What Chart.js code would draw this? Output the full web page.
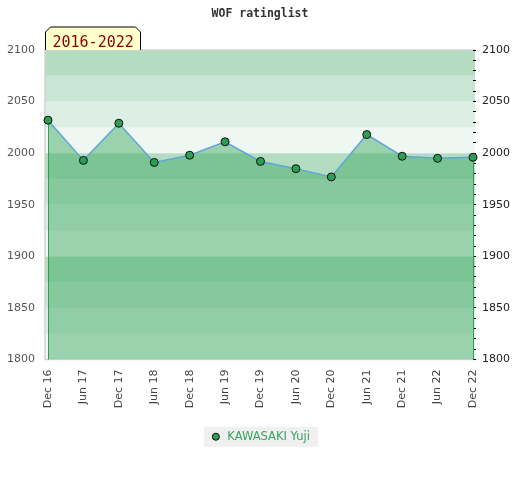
<!DOCTYPE html>
<html>
<head>
<meta charset="utf-8">
<title>WOF ratinglist</title>
<script src="https://cdn.jsdelivr.net/npm/chart.js@4.4.0/dist/chart.umd.min.js"></script>
<style>
  body { margin: 0; background: #fff; }
  canvas { display: block; }
</style>
</head>
<body>
<canvas id="chart" width="520" height="480"></canvas>
<script>
// Rating history
const periods = ['Dec 16', 'Jun 17', 'Dec 17', 'Jun 18', 'Dec 18', 'Jun 19', 'Dec 19',
                 'Jun 20', 'Dec 20', 'Jun 21', 'Dec 21', 'Jun 22', 'Dec 22'];
const ratings = [2032, 1993, 2029, 1991, 1998, 2011, 1992, 1985, 1977, 2018, 1997, 1995, 1996];
const playerName = 'KAWASAKI Yuji';
const rangeLabel = '2016-2022';
const yMin = 1800;
const yMax = 2100;

// background stripes, 4 per hundred points (top of each hundred is the darkest)
const bandColors = ['#eff7f2', '#ddeee4', '#c9e6d4', '#b4dcc1'];
const bandStep = 25;

// Stripes, plot frame and legend background
const backgroundPlugin = {
    id: 'background',
    beforeDraw(chart) {
        const ctx = chart.ctx;
        const area = chart.chartArea;
        const y = chart.scales.y;
        const left = area.left - 3;
        const right = area.right + 2;
        ctx.save();
        for (let v = yMin; v < yMax; v += bandStep) {
            const top = y.getPixelForValue(v + bandStep);
            const bottom = y.getPixelForValue(v);
            ctx.fillStyle = bandColors[((v - yMin) / bandStep) % 4];
            ctx.fillRect(left, top, right - left, bottom - top);
        }
        // frame: left, top, bottom
        ctx.strokeStyle = '#d2d2d2';
        ctx.lineWidth = 1.5;
        ctx.beginPath();
        ctx.moveTo(right, area.top);
        ctx.lineTo(left, area.top);
        ctx.lineTo(left, area.bottom);
        ctx.lineTo(right, area.bottom);
        ctx.stroke();

        // legend background box
        const hb = chart.legend.legendHitBoxes[0];
        if (hb) {
            const cy = hb.top + hb.height / 2;
            ctx.fillStyle = '#f0f0f0';
            ctx.fillRect(hb.left - 6, cy - 10, hb.width + 14, 20);
        }
        ctx.restore();
    },
    // green drop lines at both ends of the area
    beforeDatasetDraw(chart, args) {
        const pts = args.meta.data;
        if (!pts.length) return;
        const ctx = chart.ctx;
        const bottom = chart.chartArea.bottom;
        ctx.save();
        ctx.strokeStyle = '#2ca14f';
        ctx.lineWidth = 1;
        [pts[0], pts[pts.length - 1]].forEach(p => {
            ctx.beginPath();
            ctx.moveTo(Math.round(p.x) + 0.5, p.y);
            ctx.lineTo(Math.round(p.x) + 0.5, bottom);
            ctx.stroke();
        });
        ctx.restore();
    },
    // yellow period tag above the plot
    afterDraw(chart) {
        const ctx = chart.ctx;
        const area = chart.chartArea;
        const l = area.left - 3 + 0.5, r = l + 95, b = area.top, t = b - 23;
        ctx.save();
        ctx.beginPath();
        ctx.moveTo(l, b);
        ctx.lineTo(l, t + 5);
        ctx.lineTo(l + 5, t);
        ctx.lineTo(r - 5, t);
        ctx.lineTo(r, t + 5);
        ctx.lineTo(r, b);
        ctx.fillStyle = '#ffffcc';
        ctx.fill();
        ctx.strokeStyle = '#000';
        ctx.lineWidth = 1;
        ctx.stroke();
        ctx.fillStyle = '#8b0000';
        ctx.font = '15px "DejaVu Sans Mono"';
        ctx.textBaseline = 'alphabetic';
        ctx.fillText(rangeLabel, l + 7, b - 3.5);
        ctx.restore();
    }
};

Chart.defaults.font.family = '"DejaVu Sans", sans-serif';
Chart.defaults.font.size = 11;

const ctx = document.getElementById('chart').getContext('2d');
const chart = new Chart(ctx, {
    type: 'line',
    data: {
        labels: periods,
        datasets: [{
            label: playerName,
            data: ratings,
            borderColor: '#5ea6dc',
            borderWidth: 1.5,
            backgroundColor: 'rgba(61, 169, 99, 0.475)',
            fill: 'start',
            tension: 0,
            pointRadius: 4,
            pointHoverRadius: 4,
            pointBackgroundColor: '#2f9e55',
            pointBorderColor: '#111',
            pointBorderWidth: 1
        }]
    },
    options: {
        responsive: false,
        animation: false,
        layout: { padding: { left: 0, right: 0, top: 0, bottom: 27.5 } },
        plugins: {
            title: {
                display: true,
                text: 'WOF ratinglist',
                color: '#333',
                font: { family: '"DejaVu Sans Mono", monospace', size: 11.5, weight: 'bold' },
                padding: { top: 7, bottom: 29.2 }
            },
            legend: {
                position: 'bottom',
                labels: {
                    usePointStyle: true,
                    pointStyle: 'circle',
                    boxHeight: 5,
                    padding: 10,
                    color: '#3aa35f',
                    font: { size: 11.5 }
                }
            },
            tooltip: { enabled: false }
        },
        scales: {
            x: {
                grid: { display: false, drawTicks: false },
                border: { display: false },
                ticks: {
                    color: '#444',
                    padding: 10,
                    autoSkip: false,
                    maxRotation: 90,
                    minRotation: 90
                },
                afterFit(scale) { scale.height = 61.5; }
            },
            y: {
                position: 'left',
                min: yMin,
                max: yMax,
                grid: { display: false, drawTicks: false },
                border: { display: false },
                ticks: { stepSize: 50, color: '#555', padding: 13, callback: v => String(v) },
                afterFit(scale) { scale.width = 48; }
            },
            y2: {
                position: 'right',
                min: yMin,
                max: yMax,
                grid: { drawOnChartArea: false, drawTicks: true, tickLength: 3, color: '#000' },
                border: { display: false },
                ticks: {
                    stepSize: 10,
                    autoSkip: false,
                    color: '#222',
                    padding: 6,
                    callback: v => (v % 50 === 0 ? String(v) : '')
                },
                afterFit(scale) { scale.width = 47; }
            }
        }
    },
    plugins: [backgroundPlugin]
});
</script>
</body>
</html>
